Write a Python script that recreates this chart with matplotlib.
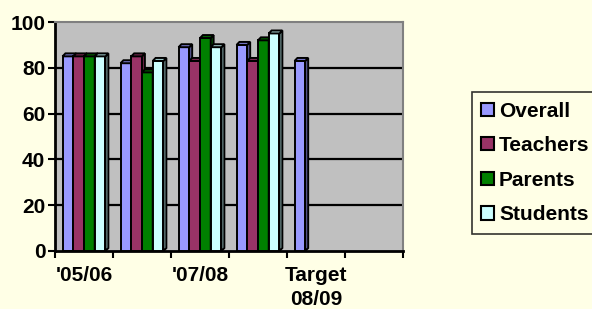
import matplotlib
matplotlib.use("Agg")
import matplotlib.pyplot as plt
from matplotlib.patches import Polygon, Patch
import numpy as np

categories = ["'05/06", "'06/07", "'07/08", "'08/09", "Target\n08/09", ""]
tick_labels = ["'05/06", "", "'07/08", "", "Target\n08/09", ""]
series_names = ["Overall", "Teachers", "Parents", "Students"]
overall = [85, 82, 89, 90, 83, np.nan]
teachers = [85, 85, 83, 83, np.nan, np.nan]
parents = [85, 78, 93, 92, np.nan, np.nan]
students = [85, 83, 89, 95, np.nan, np.nan]
colors = ["#9999FF", "#993366", "#008000", "#CCFFFF"]
side_colors = ["#6B6BB3", "#6B2447", "#005A00", "#8FB3B3"]
top_colors = ["#7A7ACC", "#7A2952", "#006600", "#A3CCCC"]

BG = "#FFFFE6"
plt.rcParams['font.family'] = ['Liberation Sans', 'DejaVu Sans']
plt.rcParams['font.weight'] = 'bold'
FS = 15

fig = plt.figure(figsize=(5.92, 3.09), dpi=100, facecolor=BG)
ax = fig.add_axes([55/592, (309-251)/309, 348/592, 229/309])
ax.set_facecolor("#C0C0C0")

ax.set_xlim(0, len(categories))
ax.set_ylim(0, 100)

for y in [20, 40, 60, 80]:
    ax.axhline(y, color="black", lw=1.6, zorder=1)

w = 0.185
dx, dy = 0.05, 1.3
data = [overall, teachers, parents, students]
z = 2
for i in range(len(categories)):
    for j, vals in enumerate(data):
        h = vals[i]
        if np.isnan(h):
            continue
        x0 = i + 0.5 + (j - 2) * w
        x1 = x0 + w
        ax.bar(x0, h, width=w, align='edge', color=colors[j], edgecolor='black', lw=1.4, zorder=z)
        ax.add_patch(Polygon([(x1, 0), (x1 + dx, dy), (x1 + dx, h + dy), (x1, h)],
                             closed=True, facecolor=side_colors[j], edgecolor='black', lw=1.4, zorder=z))
        ax.add_patch(Polygon([(x0, h), (x0 + dx, h + dy), (x1 + dx, h + dy), (x1, h)],
                             closed=True, facecolor=top_colors[j], edgecolor='black', lw=1.4, zorder=z))
        z += 1

ax.set_yticks([0, 20, 40, 60, 80, 100])
ax.set_yticklabels(["0", "20", "40", "60", "80", "100"], fontsize=FS, fontweight='bold')
ax.set_xticks(np.arange(len(categories) + 1))
ax.set_xticklabels([])
ax.set_xticks(np.arange(len(categories)) + 0.5, minor=True)
ax.set_xticklabels(tick_labels, minor=True, fontsize=FS, fontweight='bold', linespacing=1.3)
ax.tick_params(axis='x', which='minor', length=0, pad=11)
ax.tick_params(axis='x', which='major', length=5, width=1.5, direction='out')
ax.tick_params(axis='y', length=5, width=1.5, direction='out', pad=2)

for s in ['top', 'right']:
    ax.spines[s].set_color("#808080")
    ax.spines[s].set_linewidth(1.5)
for s in ['left', 'bottom']:
    ax.spines[s].set_color("black")
    ax.spines[s].set_linewidth(2)

handles = [Patch(facecolor=c, edgecolor='black', lw=1.5) for c in colors]
leg = fig.legend(handles, series_names, loc='center left',
                 bbox_to_anchor=(472/592, (309-163)/309),
                 fontsize=FS, frameon=True, fancybox=False,
                 handlelength=0.6, handleheight=0.6, handletextpad=0.25,
                 labelspacing=0.75, borderpad=0.45, borderaxespad=0)
leg.get_frame().set_edgecolor('black')
leg.get_frame().set_facecolor(BG)
leg.get_frame().set_linewidth(1.2)
for t in leg.get_texts():
    t.set_fontweight('bold')

fig.savefig("out.png", dpi=100, facecolor=BG)
